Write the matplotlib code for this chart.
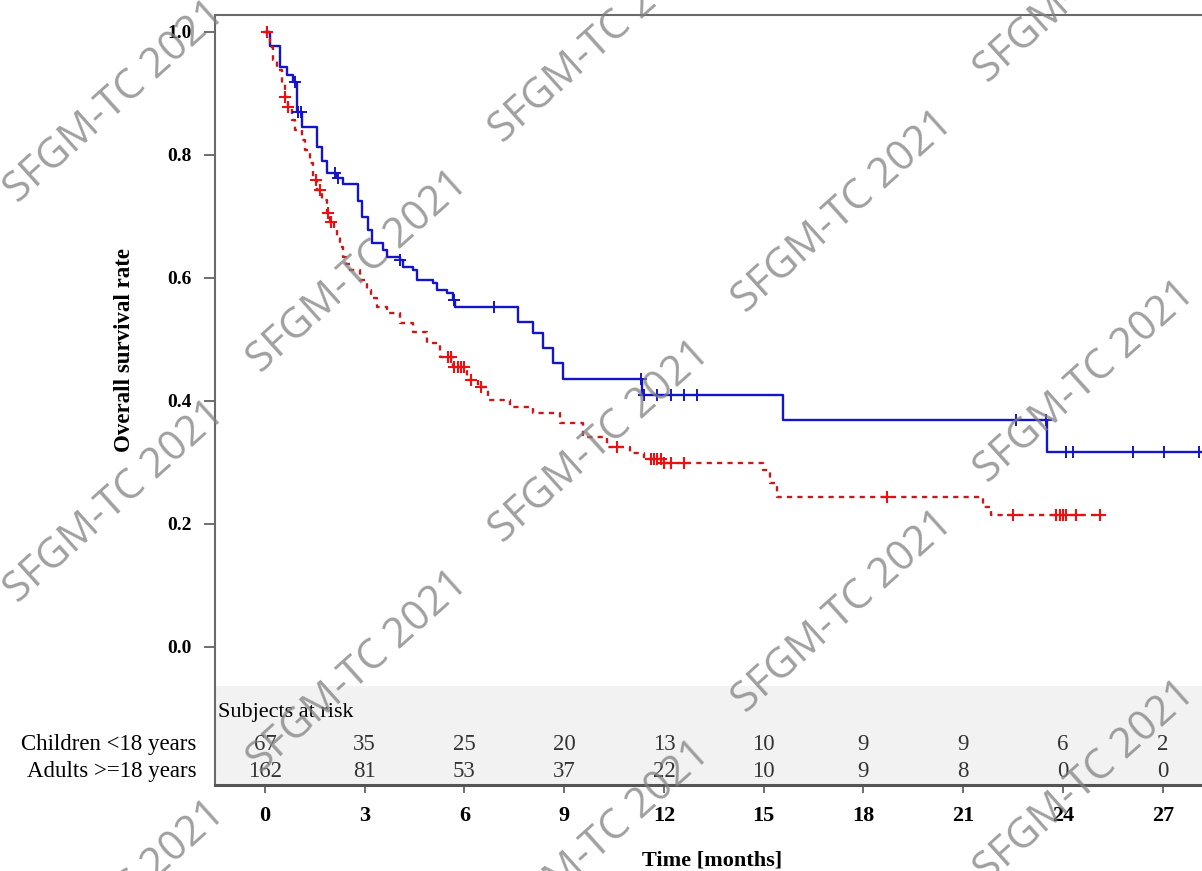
import numpy as np
import matplotlib
matplotlib.use("Agg")
from matplotlib import pyplot as plt

# Kaplan-Meier steps (time in months, survival)
blue_t = [0, 0.15, 0.45, 0.66, 0.84, 0.96, 1.11, 1.56, 1.71, 1.86, 2.17, 2.35, 2.8, 2.92, 3.1,
          3.22, 3.55, 3.67, 4.06, 4.15, 4.45, 4.57, 5.05, 5.17, 5.47, 5.65, 5.71, 7.6, 8.06,
          8.36, 8.66, 8.96, 11.34, 15.58, 23.52]
blue_s = [1.0, 0.978, 0.943, 0.930, 0.918, 0.870, 0.845, 0.813, 0.790, 0.770, 0.763, 0.753,
          0.725, 0.699, 0.678, 0.657, 0.646, 0.634, 0.629, 0.618, 0.613, 0.597, 0.592, 0.580,
          0.576, 0.564, 0.553, 0.528, 0.511, 0.486, 0.462, 0.436, 0.410, 0.369, 0.317]
blue_end = 30
blue_censor = [0.9, 1.0, 1.1, 2.1, 2.2, 4.06, 5.7, 6.9, 11.3, 11.4, 11.8, 12.2, 12.6, 13.0,
               22.6, 23.5, 24.1, 24.3, 26.1, 27.05, 28.1]

red_t = [0, 0.15, 0.24, 0.36, 0.51, 0.60, 0.69, 0.81, 0.90, 1.11, 1.20, 1.35, 1.44, 1.56, 1.71,
         1.86, 1.95, 2.07, 2.17, 2.26, 2.35, 2.45, 2.56, 2.86, 3.07, 3.2, 3.37, 3.67, 4.06, 4.45,
         4.87, 5.26, 5.65, 6.07, 6.4, 6.71, 7.37, 8.06, 8.87, 9.56, 10.29, 10.98, 11.4, 12.0,
         14.98, 15.19, 15.40, 21.6, 21.85]
red_s = [1.0, 0.976, 0.954, 0.938, 0.917, 0.894, 0.878, 0.857, 0.841, 0.824, 0.808, 0.787,
         0.759, 0.743, 0.727, 0.706, 0.691, 0.679, 0.667, 0.650, 0.634, 0.623, 0.613, 0.597,
         0.580, 0.567, 0.553, 0.543, 0.527, 0.512, 0.494, 0.472, 0.455, 0.434, 0.423, 0.402,
         0.390, 0.380, 0.364, 0.341, 0.325, 0.315, 0.305, 0.299, 0.288, 0.267, 0.244, 0.228, 0.215]
red_end = 25.1
red_censor = [0.05, 0.6, 0.7, 1.55, 1.65, 1.9, 2.0, 5.5, 5.6, 5.7, 5.8, 5.9, 6.0, 6.2, 6.5,
              10.6, 11.6, 11.7, 11.8, 11.9, 12.0, 12.2, 12.6, 18.7, 22.5, 23.8, 23.9, 24.0,
              24.1, 24.4, 25.1]

# risk table
risk_times = [0, 3, 6, 9, 12, 15, 18, 21, 24, 27]
group_labels = ["Children <18 years", "Adults >=18 years"]
children_risk = [67, 35, 25, 20, 13, 10, 9, 9, 6, 2]
adults_risk = [162, 81, 53, 37, 22, 10, 9, 8, 0, 0]

W, H = 1202, 871
serif = "Liberation Serif"


def fx(px):
    return px / W


def fy(py):
    return 1 - py / H


def step_value(ts, ss, c):
    i = np.searchsorted(ts, c, side="right") - 1
    return np.asarray(ss)[i]


fig = plt.figure(figsize=(W / 100, H / 100), dpi=100)
# axes runs past the right edge of the picture (cropped original)
ax = fig.add_axes([fx(215), fy(785), fx(1262.5) - fx(215), fy(15) - fy(785)])
ax.set_xlim(-1.5, 30)
ax.set_ylim(-0.2244, 1.0276)

ax.axhspan(-0.2244, -0.063, color="#f2f2f2", zorder=0, lw=0)

blue = "#1414c8"
red = "#c81818"
ax.step(list(blue_t) + [blue_end], list(blue_s) + [blue_s[-1]], where="post",
        color=blue, lw=1.7, zorder=3)
ax.plot(blue_censor, step_value(blue_t, blue_s, blue_censor), ls="none", marker="+",
        ms=8, mew=1.4, color=blue, zorder=4)

ax.step(list(red_t) + [red_end], list(red_s) + [red_s[-1]], where="post",
        color=red, lw=1.7, ls=(0, (2.2, 2.2)), zorder=3)
ax.plot(red_censor, step_value(red_t, red_s, red_censor), ls="none", marker="+",
        ms=8, mew=1.5, color="#ee1010", zorder=4)

# spines / ticks
ax.spines["right"].set_visible(False)
for side in ["left", "top"]:
    ax.spines[side].set_color("#6a6a6a")
    ax.spines[side].set_linewidth(1.5)
ax.spines["bottom"].set_color("#555555")
ax.spines["bottom"].set_linewidth(2.2)

ax.set_yticks([0.0, 0.2, 0.4, 0.6, 0.8, 1.0])
ax.set_yticklabels(["0.0", "0.2", "0.4", "0.6", "0.8", "1.0"])
ax.set_xticks(risk_times)
ax.set_xticklabels([str(t) for t in risk_times])
ax.tick_params(axis="y", length=8, width=1.2, color="#555555", pad=9)
ax.tick_params(axis="x", length=6, width=1.2, color="#555555", pad=9)
for lab in ax.get_yticklabels():
    lab.set_fontfamily(serif)
    lab.set_fontweight("bold")
    lab.set_fontsize(14)
for lab in ax.get_xticklabels():
    lab.set_fontfamily(serif)
    lab.set_fontweight("bold")
    lab.set_fontsize(16)

# risk table
ax.text(-1.41, -0.106, "Subjects at risk", family=serif, fontsize=16, va="center", ha="left")
rows_y = [-0.159, -0.202]
for lab, y, vals in zip(group_labels, rows_y, [children_risk, adults_risk]):
    ax.text(-2.05, y, lab, family=serif, fontsize=16.5, va="center", ha="right", clip_on=False)
    for t, v in zip(risk_times, vals):
        ax.text(t, y, str(v), family=serif, fontsize=16.5, va="center", ha="center",
                color="#333333")

fig.text(fx(712), fy(860), "Time [months]", family=serif, fontweight="bold", fontsize=16,
         ha="center", va="center")
fig.text(fx(125), fy(350), "Overall survival rate", family=serif, fontweight="bold",
         fontsize=16.5, rotation=90, ha="center", va="center")

# watermark lattice (cut at the picture edges like in the original)
for col in range(6):
    cx = 115 + 242.5 * col
    y0 = (102 + 170 * col) % 400
    for row in range(-1, 4):
        cy = y0 + 400 * row
        if -150 < cy < H + 150:
            fig.text(fx(cx), fy(cy), "SFGM-TC 2021", family="Open Sans", fontsize=30,
                     color="#808080", alpha=0.75, rotation=42, rotation_mode="anchor",
                     ha="center", va="center", zorder=10)

fig.savefig("out.png", dpi=100)
